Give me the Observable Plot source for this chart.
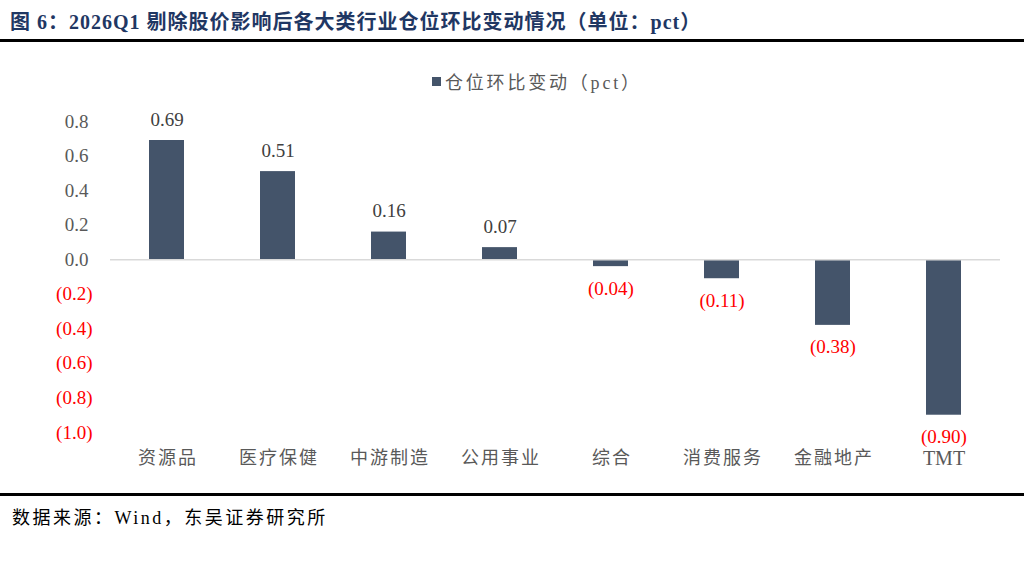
<!DOCTYPE html>
<html>
<head>
<meta charset="utf-8">
<script src="https://cdn.jsdelivr.net/npm/d3@7"></script>
<script src="https://cdn.jsdelivr.net/npm/@observablehq/plot@0.6"></script>
<style>
  html, body { margin: 0; padding: 0; background: #fff; }
  #page { position: relative; width: 1024px; height: 566px; overflow: hidden; background: #fff; }
  #title { position: absolute; left: 10px; top: 6px; font-family: "Liberation Serif", "Noto Sans CJK SC", serif; font-weight: bold; font-size: 20px; letter-spacing: 1px; color: #1f3763; white-space: nowrap; }
  .rule { position: absolute; left: 0; width: 1024px; height: 3px; background: #000; }
  #legend { position: absolute; left: 432px; top: 68px; font-family: "Liberation Serif", "Noto Sans CJK SC", serif; font-size: 18px; letter-spacing: 2.8px; color: #595959; white-space: nowrap; display: flex; align-items: center; }
  #legend .sw { display: inline-block; width: 9px; height: 9px; background: #44546A; margin-right: 4px; }
  #chart { position: absolute; left: 0; top: 100px; }
  #caption { position: absolute; left: 12px; top: 503px; font-family: "Liberation Serif", "Noto Sans CJK SC", serif; font-size: 18px; letter-spacing: 2.5px; color: #000; white-space: nowrap; }
</style>
</head>
<body>
<div id="page">
  <div id="title">图 6：2026Q1 剔除股价影响后各大类行业仓位环比变动情况（单位：pct）</div>
  <div class="rule" style="top:39px"></div>
  <div id="legend"><span class="sw"></span>仓位环比变动（pct）</div>
  <div id="chart"></div>
  <div class="rule" style="top:493px"></div>
  <div id="caption">数据来源：Wind，东吴证券研究所</div>
</div>
<script>
const categories = ["资源品", "医疗保健", "中游制造", "公用事业", "综合", "消费服务", "金融地产", "TMT"];
const values = [0.69, 0.51, 0.16, 0.07, -0.04, -0.11, -0.38, -0.90];
const yTicks = [0.8, 0.6, 0.4, 0.2, 0.0, -0.2, -0.4, -0.6, -0.8, -1.0];
const yTickLabels = ["0.8", "0.6", "0.4", "0.2", "0.0", "(0.2)", "(0.4)", "(0.6)", "(0.8)", "(1.0)"];

const data = categories.map((c, i) => ({category: c, value: values[i]}));
const fmt = v => v < 0 ? "(" + Math.abs(v).toFixed(2) + ")" : v.toFixed(2);
const ticks = yTicks.map((t, i) => ({t, label: yTickLabels[i]}));

const serif = "'Liberation Serif', 'Noto Sans CJK SC', serif";

const chart = Plot.plot({
  width: 1024,
  height: 380,
  marginLeft: 110,
  marginRight: 24,
  marginTop: 21,
  marginBottom: 48,
  style: {fontFamily: serif, background: "transparent"},
  x: {domain: categories, paddingInner: 0.685, paddingOuter: 0.3425, axis: null},
  y: {domain: [-1.0, 0.8], axis: null},
  marks: [
    Plot.barY(data, {x: "category", y: "value", fill: "#44546A"}),
    Plot.ruleY([0], {stroke: "#d9d9d9", strokeWidth: 1.5}),
    Plot.text(ticks.filter(d => d.t >= 0), {y: "t", text: "label", frameAnchor: "left", textAnchor: "end", dx: -22, fontSize: 19, fill: "#595959", lineAnchor: "middle"}),
    Plot.text(ticks.filter(d => d.t < 0), {y: "t", text: "label", frameAnchor: "left", textAnchor: "end", dx: -18, fontSize: 19, fill: "#ff0000", lineAnchor: "middle"}),
    Plot.text(data.filter(d => d.value >= 0), {x: "category", y: "value", text: d => fmt(d.value), dy: -21, fontSize: 19, fill: "#404040", lineAnchor: "middle"}),
    Plot.text(data.filter(d => d.value < 0), {x: "category", y: "value", text: d => fmt(d.value), dy: 22, fontSize: 19, fill: "#ff0000", lineAnchor: "middle"}),
    Plot.text(categories, {x: d => d, text: d => d, frameAnchor: "bottom", dy: 26, fontSize: 18, fill: "#595959", lineAnchor: "middle", fontFamily: serif})
  ]
});
document.getElementById("chart").appendChild(chart);
const textGroups = chart.querySelectorAll("g[aria-label='text']");
const catGroup = textGroups[textGroups.length - 1];
catGroup.querySelectorAll("text").forEach(t => {
  if (/[\u4e00-\u9fff]/.test(t.textContent)) {
    t.style.letterSpacing = "2px";
    t.setAttribute("dx", "1");
  } else {
    t.setAttribute("font-size", "20");
  }
});
</script>
</body>
</html>
